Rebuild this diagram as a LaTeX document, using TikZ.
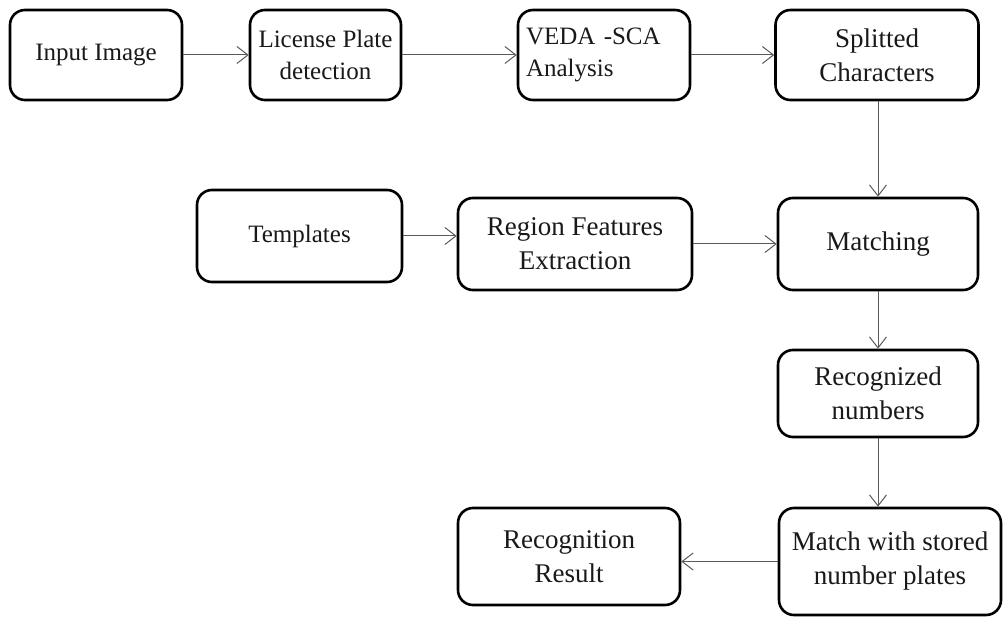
\documentclass[tikz,border=0pt]{standalone}
\usepackage{fontspec}
\setmainfont{Liberation Serif}
\usetikzlibrary{arrows.meta}
\begin{document}
\begin{tikzpicture}[x=1pt,y=-1pt,
  box/.style={draw=black, line width=2.6pt, rounded corners=15pt, fill=white,
    inner sep=0pt, align=center, font=\fontsize{27}{34}\selectfont, text=black!90},
  conn/.style={draw=black!65, line width=1pt, -{Straight Barb[length=11pt,width=17pt,line width=1pt]}}]
\useasboundingbox (0,0) rectangle (1003,617);
\node[box, minimum width=172pt, minimum height=90pt, font=\fontsize{25}{32}\selectfont] (input) at (96,55) {Input Image};
\node[box, minimum width=151pt, minimum height=90pt, font=\fontsize{25}{32}\selectfont] (lpd) at (325.5,55) {License Plate\\detection};
\node[box, minimum width=172pt, minimum height=90pt, text width=156pt, align=left, font=\fontsize{25}{32}\selectfont] (veda) at (604,55) {VEDA -SCA\\Analysis};
\node[box, minimum width=203pt, minimum height=90pt] (split) at (877,55) {Splitted\\Characters};
\node[box, minimum width=205pt, minimum height=92pt, font=\fontsize{25}{32}\selectfont] (templ) at (299.5,236) {Templates};
\node[box, minimum width=234pt, minimum height=92pt] (region) at (575,244) {Region Features\\Extraction};
\node[box, minimum width=200pt, minimum height=92pt] (match) at (878,244) {Matching};
\node[box, minimum width=200pt, minimum height=87pt] (recog) at (878,393.5) {Recognized\\numbers};
\node[box, minimum width=222pt, minimum height=107pt] (stored) at (890,561.5) {Match with stored\\number plates};
\node[box, minimum width=222pt, minimum height=97pt] (result) at (569,556.5) {Recognition\\Result};
\draw[conn] (input.east) -- (lpd.west);
\draw[conn] (lpd.east) -- (veda.west);
\draw[conn] (veda.east) -- (split.west);
\draw[conn] (split.south -| match.north) -- (match.north);
\draw[conn] (templ.east) -- (templ.east -| region.west);
\draw[conn] (region.east) -- (match.west);
\draw[conn] (match.south) -- (recog.north);
\draw[conn] (recog.south) -- (recog.south |- stored.north);
\draw[conn] (stored.west) -- (stored.west -| result.east);
\end{tikzpicture}
\end{document}
